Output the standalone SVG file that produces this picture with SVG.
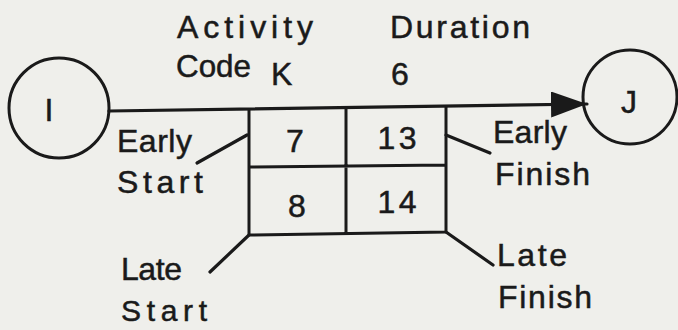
<svg xmlns="http://www.w3.org/2000/svg" width="678" height="330" viewBox="0 0 678 330">
<style>
text{font-family:"Liberation Sans",Arial,sans-serif;font-size:32px;fill:#1a1a1a;stroke:#1a1a1a;stroke-width:0.5}
.n{text-anchor:middle}
.s{font-size:30px}
.c{fill:none;stroke:#1a1a1a;stroke-width:3}
.ln{fill:none;stroke:#1a1a1a;stroke-width:3.2;stroke-linecap:round}
</style>
<defs>
<marker id="ah" viewBox="0 0 36 26" refX="36" refY="13" markerWidth="36" markerHeight="26" markerUnits="userSpaceOnUse" orient="auto">
<path d="M0,0 L36,13 L0,26 z" fill="#1a1a1a"/>
</marker>
</defs>
<rect width="678" height="330" fill="#efefeb"/>
<g id="node-I">
<circle class="c" cx="59" cy="108" r="50"/>
<text class="n" x="49" y="121">I</text>
</g>
<g id="node-J">
<circle class="c" cx="630" cy="97" r="47"/>
<text class="n" x="629" y="113">J</text>
</g>
<g id="connectors">
<line class="ln" x1="109" y1="111" x2="587" y2="104" marker-end="url(#ah)"/>
<line class="ln" x1="247" y1="135" x2="197" y2="163"/>
<line class="ln" x1="446" y1="135" x2="490" y2="153"/>
<line class="ln" x1="249" y1="235" x2="210" y2="272"/>
<line class="ln" x1="446" y1="232" x2="493" y2="265"/>
</g>
<g id="node-K">
<path class="c" d="M249,109 L249,235 L446,232 L446,106 M249,167 L446,165 M346,107.5 L346,233.5"/>
<text class="n" x="295" y="152">7</text>
<text class="n" x="397" y="149" textLength="39" lengthAdjust="spacing">13</text>
<text class="n" x="297" y="217">8</text>
<text class="n" x="397" y="213" textLength="39" lengthAdjust="spacing">14</text>
</g>
<g id="labels">
<text x="177" y="38" textLength="136" lengthAdjust="spacing">Activity</text>
<text x="390" y="38" textLength="140" lengthAdjust="spacing">Duration</text>
<text x="176" y="77" textLength="75" lengthAdjust="spacingAndGlyphs">Code</text>
<text x="271" y="85">K</text>
<text x="391" y="85">6</text>
<text x="117" y="152" textLength="75" lengthAdjust="spacing">Early</text>
<text x="117" y="193" textLength="86" lengthAdjust="spacing">Start</text>
<text x="493" y="143" textLength="74" lengthAdjust="spacing">Early</text>
<text x="495" y="185" textLength="95" lengthAdjust="spacing">Finish</text>
<text x="121" y="280" textLength="61" lengthAdjust="spacing">Late</text>
<text class="s" x="121" y="321" textLength="86" lengthAdjust="spacing">Start</text>
<text x="497" y="266" textLength="70" lengthAdjust="spacing">Late</text>
<text x="498" y="308" textLength="94" lengthAdjust="spacing">Finish</text>
</g>
</svg>
